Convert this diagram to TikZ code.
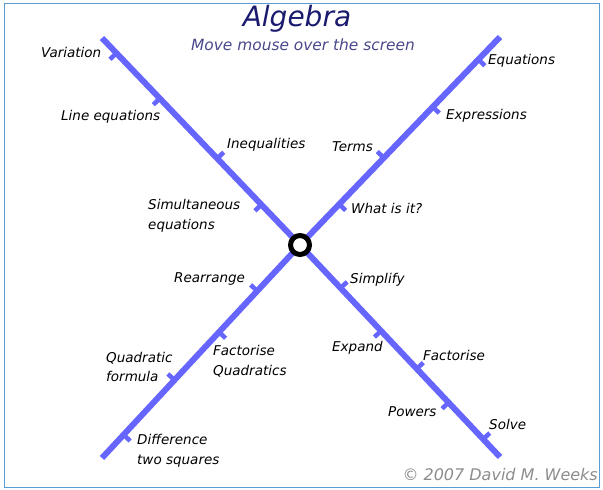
\documentclass[tikz,border=0pt]{standalone}
\usepackage{fontspec}
\setmainfont{DejaVu Sans}
\usetikzlibrary{calc}
\definecolor{axisblue}{RGB}{102,102,255}
\definecolor{titlenavy}{RGB}{26,26,110}
\definecolor{frameblue}{RGB}{91,155,213}

\begin{document}
\begin{tikzpicture}[x=1pt, y=-1pt,
	axis/.style={axisblue, line width=6pt},
	tickmark/.style={axisblue, line width=4.5pt},
	lbl/.style={anchor=west, inner sep=0pt, align=left, font=\itshape\fontsize{13.5}{19.5}\selectfont}]
	\useasboundingbox (0,0) rectangle (603,490);
	\draw[frameblue] (4,3) rectangle (599,487);
	% the four arms
	\coordinate (O) at (300,245);
	\coordinate (nw) at (102,38);
	\coordinate (ne) at (500,37);
	\coordinate (sw) at (102,458);
	\coordinate (se) at (500,457);
	\foreach \e in {nw,ne,sw,se}
		\draw[axis] (O) -- (\e);
	% ticks: arm / position along arm / side
	\foreach \e/\p/\a in {nw/0.927/90, nw/0.708/90, nw/0.418/-90, nw/0.195/90,
		ne/0.892/-90, ne/0.664/-90, ne/0.419/90, ne/0.196/-90,
		sw/0.216/-90, sw/0.409/90, sw/0.634/-90, sw/0.891/90,
		se/0.203/90, se/0.405/-90, se/0.584/90, se/0.743/-90, se/0.916/90} {
		\coordinate (t) at ($(O)!\p!(\e)$);
		\draw[tickmark] (t) -- ($(t)!9pt!\a:(\e)$);
	}
	\node[circle, draw=black, line width=5pt, fill=white, minimum size=19pt, inner sep=0pt] (hub) at (O) {};
	% title
	\node[titlenavy, font=\itshape\fontsize{28}{32}\selectfont] (title) at (297,19) {Algebra};
	\node[titlenavy!80, font=\itshape\fontsize{15.4}{18}\selectfont] (subtitle) at (303,45) {Move mouse over the screen};
	% labels, north-west arm
	\node[lbl] (variation) at (41,52) {Variation};
	\node[lbl] (lineeq) at (61,117) {Line equations};
	\node[lbl] (ineq) at (227,145) {Inequalities};
	\node[lbl] (simeq) at (148,216) {Simultaneous\\equations};
	% north-east arm
	\node[lbl] (equations) at (488,61) {Equations};
	\node[lbl] (expressions) at (446,116) {Expressions};
	\node[lbl] (terms) at (332,147) {Terms};
	\node[lbl] (whatisit) at (351,208) {What is it?};
	% south-west arm
	\node[lbl] (rearrange) at (174,279) {Rearrange};
	\node[lbl] (factquad) at (213,361) {Factorise\\Quadratics};
	\node[lbl] (quadform) at (106,367) {Quadratic\\formula};
	\node[lbl] (diffsq) at (137,451) {Difference\\two squares};
	% south-east arm
	\node[lbl] (simplify) at (350,280) {Simplify};
	\node[lbl] (expand) at (332,348) {Expand};
	\node[lbl] (factorise) at (423,355) {Factorise};
	\node[lbl] (powers) at (388,412) {Powers};
	\node[lbl] (solve) at (489,424) {Solve};
	\node[anchor=east, inner sep=0pt, text=black!45, font=\itshape\fontsize{16}{18}\selectfont] (copy) at (598,475) {\textcopyright{} 2007 David M. Weeks};
\end{tikzpicture}
\end{document}
